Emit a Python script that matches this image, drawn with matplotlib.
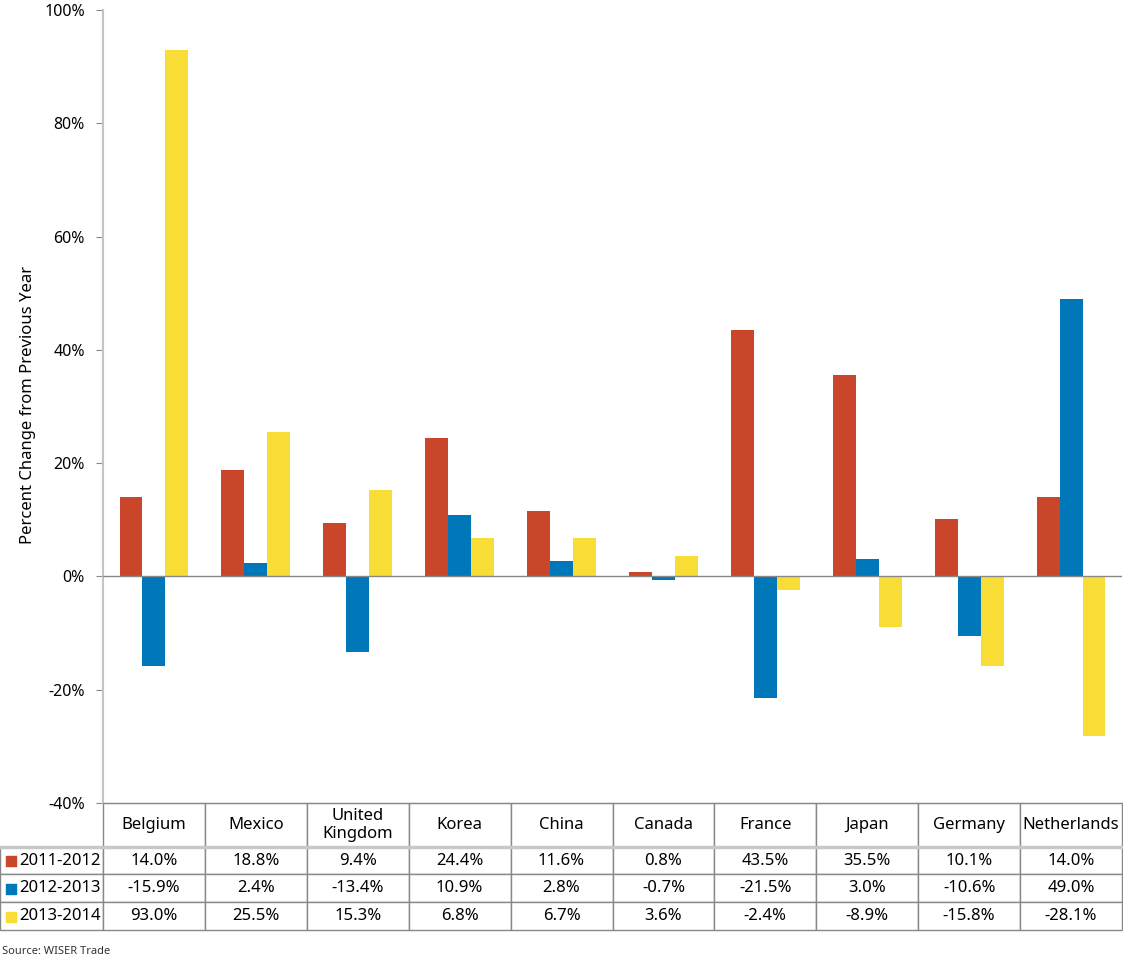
import numpy as np
import matplotlib.pyplot as plt
from matplotlib.ticker import FuncFormatter

plt.rcParams['font.family'] = ['Noto Sans', 'DejaVu Sans']

# data
countries = ["Belgium", "Mexico", "United\nKingdom", "Korea", "China", "Canada",
             "France", "Japan", "Germany", "Netherlands"]
years = ["2011-2012", "2012-2013", "2013-2014"]
v_2011_2012 = [14.0, 18.8, 9.4, 24.4, 11.6, 0.8, 43.5, 35.5, 10.1, 14.0]
v_2012_2013 = [-15.9, 2.4, -13.4, 10.9, 2.8, -0.7, -21.5, 3.0, -10.6, 49.0]
v_2013_2014 = [93.0, 25.5, 15.3, 6.8, 6.7, 3.6, -2.4, -8.9, -15.8, -28.1]
colors = ["#C9462A", "#0077B8", "#F7DD36"]

series = [v_2011_2012, v_2012_2013, v_2013_2014]

fig = plt.figure(figsize=(11.23, 9.61), dpi=100)
ax = fig.add_axes([103/1123, 1 - 803/961, 1019/1123, 793/961])

x = np.arange(len(countries))
w = 0.225
for i, vals in enumerate(series):
    ax.bar(x + (i - 1) * w, vals, width=w, color=colors[i], zorder=2)

ax.axhline(0, color="#888888", lw=1, zorder=3)
ax.set_xlim(-0.5, len(countries) - 0.5)
ax.set_ylim(-40, 100)
ax.set_yticks(np.arange(-40, 101, 20))
ax.yaxis.set_major_formatter(FuncFormatter(lambda v, p: f"{v:.0f}%"))
ax.tick_params(axis='y', labelsize=11.5, length=5, color="#888888", pad=8)
ax.set_xticks([])
for s in ["top", "right"]:
    ax.spines[s].set_visible(False)
ax.spines["left"].set_color("#c4c4c4")
ax.spines["left"].set_linewidth(1.5)
ax.spines["bottom"].set_color("#888888")
ax.set_ylabel("Percent Change from Previous Year", fontsize=12)
ax.yaxis.set_label_coords((36 - 103) / 1019, (803 - 405) / 793)

# table under the chart
header = [""] + countries
rows = [header]
for yr, vals in zip(years, series):
    rows.append([yr] + [f"{v:.1f}%" for v in vals])

total_w = 1122
col_w = [103 / total_w] + [101.9 / total_w] * len(countries)
tbl = ax.table(cellText=rows, cellLoc='center', colWidths=col_w,
               bbox=[-103/1019, -127/793, 1122/1019, 127/793])
tbl.auto_set_font_size(False)
tbl.set_fontsize(12)
row_h = [44, 28, 28, 28]
for (r, c), cell in tbl.get_celld().items():
    cell.set_height(row_h[r])
    cell.set_edgecolor("#888888")
    cell.set_linewidth(1)
    if r == 0 and c == 0:
        cell.visible_edges = ""
    elif r == 0:
        cell.visible_edges = "LRT"
    if c == 0 and r > 0:
        cell.get_text().set_ha("left")
        cell.PAD = 0.19

# colour squares in the row labels
for i, col in enumerate(colors):
    yc = -40 - (44 + 28 * i + 14) / 793 * 140
    ax.scatter([-0.5 - 92.5/102], [yc], marker='s', s=48, color=col, clip_on=False, zorder=5)

# thicker light line under the header
ax.plot([-0.5 - 103/102, 9.5], [-40 - 44/793*140] * 2, color="#c8c8c8", lw=2.5,
        clip_on=False, zorder=6)

fig.text(2/1123, 1 - 952/961, "Source: WISER Trade", fontsize=8, va="center", color="#333333")

fig.savefig("out.png", dpi=100)
